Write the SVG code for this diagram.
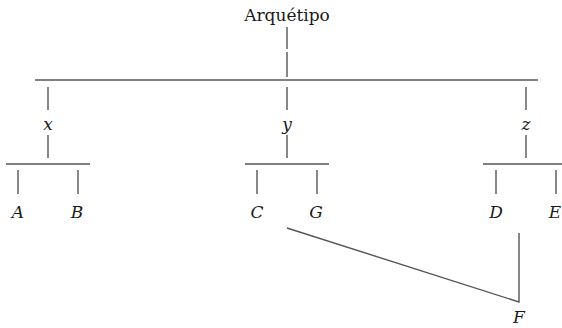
<svg xmlns="http://www.w3.org/2000/svg" width="562" height="328" viewBox="0 0 562 328">
<style>
.t{font-family:"DejaVu Serif","Liberation Serif",serif;font-size:17px;fill:#1a1a1a;text-anchor:middle}
.v{font-style:italic}
.l{stroke:#555;stroke-width:1.4;fill:none}
</style>
<rect width="562" height="328" fill="#fff"/>
<g id="connectors">
<path class="l" d="M287,27V49M287,52V77M35,80H538"/>
<path class="l" d="M48,87V110M48,135V158M6,164H90M18,170V194M78,170V194"/>
<path class="l" d="M287,87V110M287,135V158M245,164H329M257,170V194M317,170V194"/>
<path class="l" d="M526,87V110M526,135V158M483,164H566M496,170V194M556,170V194"/>
<path class="l" d="M287,228L519,302V233"/>
</g>
<g id="archetype"><text class="t" x="287" y="21">Arquétipo</text></g>
<g id="x"><text class="t v" x="48" y="130">x</text></g>
<g id="y"><text class="t v" x="287" y="130">y</text></g>
<g id="z"><text class="t v" x="526" y="130">z</text></g>
<g id="A"><text class="t v" x="18" y="218">A</text></g>
<g id="B"><text class="t v" x="77" y="218">B</text></g>
<g id="C"><text class="t v" x="257" y="218">C</text></g>
<g id="G"><text class="t v" x="316" y="218">G</text></g>
<g id="D"><text class="t v" x="496" y="218">D</text></g>
<g id="E"><text class="t v" x="555" y="218">E</text></g>
<g id="F"><text class="t v" x="519" y="323">F</text></g>
</svg>
